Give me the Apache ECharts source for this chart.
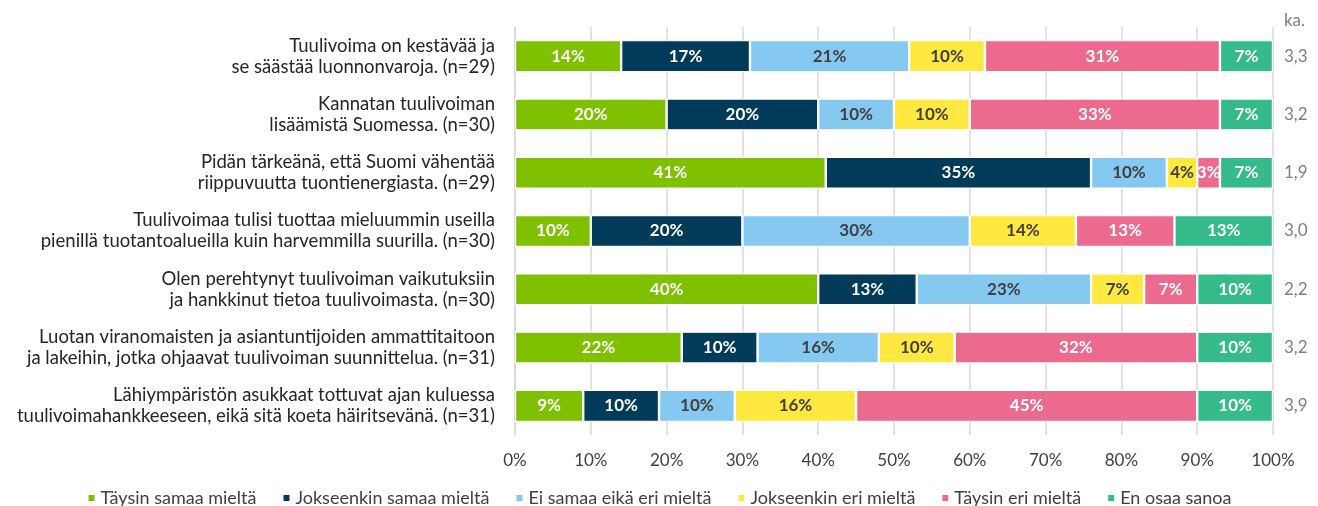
<!DOCTYPE html>
<html>
<head>
<meta charset="utf-8">
<script src="https://cdn.jsdelivr.net/npm/echarts@6/dist/echarts.min.js"></script>
<style>
  html, body { margin: 0; padding: 0; background: #fff; }
  #chart { width: 1318px; height: 506px; }
</style>
</head>
<body>
<div id="chart"></div>
<script>
// statements (top to bottom)
const statements = [
  'Tuulivoima on kestävää ja\nse säästää luonnonvaroja. (n=29)',
  'Kannatan tuulivoiman\nlisäämistä Suomessa. (n=30)',
  'Pidän tärkeänä, että Suomi vähentää\nriippuvuutta tuontienergiasta. (n=29)',
  'Tuulivoimaa tulisi tuottaa mieluummin useilla\npienillä tuotantoalueilla kuin harvemmilla suurilla. (n=30)',
  'Olen perehtynyt tuulivoiman vaikutuksiin\nja hankkinut tietoa tuulivoimasta. (n=30)',
  'Luotan viranomaisten ja asiantuntijoiden ammattitaitoon\nja lakeihin, jotka ohjaavat tuulivoiman suunnittelua. (n=31)',
  'Lähiympäristön asukkaat tottuvat ajan kuluessa\ntuulivoimahankkeeseen, eikä sitä koeta häiritsevänä. (n=31)'
];
const averages = ['3,3', '3,2', '1,9', '3,0', '2,2', '3,2', '3,9'];

const seriesNames = [
  'Täysin samaa mieltä', 'Jokseenkin samaa mieltä', 'Ei samaa eikä eri mieltä',
  'Jokseenkin eri mieltä', 'Täysin eri mieltä', 'En osaa sanoa'
];
const taysinSamaa     = [14, 20, 41, 10, 40, 22, 9];
const jokseenkinSamaa = [17, 20, 35, 20, 13, 10, 10];
const eiSamaaEiEri    = [21, 10, 10, 30, 23, 16, 10];
const jokseenkinEri   = [10, 10, 4, 14, 7, 10, 16];
const taysinEri       = [31, 33, 3, 13, 7, 32, 45];
const enOsaa          = [7, 7, 7, 13, 10, 10, 10];

const colors = ['#7fc000', '#023a5a', '#85c8f0', '#ffe840', '#ec6a8e', '#35ba8a'];
const labelColors = ['#fff', '#fff', '#404040', '#404040', '#fff', '#fff'];
const values = [taysinSamaa, jokseenkinSamaa, eiSamaaEiEri, jokseenkinEri, taysinEri, enOsaa];

const font = 'Lato, "Open Sans", sans-serif';

let myChart = echarts.init(document.getElementById('chart'));

let series = values.map(function (v, i) {
  return {
    name: seriesNames[i],
    type: 'bar',
    stack: 'total',
    barWidth: 32,
    data: v,
    itemStyle: { color: colors[i], borderColor: '#fff', borderWidth: 1.2 },
    label: {
      show: true,
      position: 'inside',
      formatter: '{c}%',
      color: labelColors[i],
      fontFamily: font,
      fontWeight: 'bold',
      fontSize: 17
    },
    emphasis: { disabled: true }
  };
});

let options = {
  animation: false,
  textStyle: { fontFamily: font },
  title: {
    text: 'ka.',
    right: 8,
    top: 7,
    textStyle: { color: '#7f7f7f', fontSize: 17, fontWeight: 'normal', fontFamily: font }
  },
  grid: { left: 515, right: 45, top: 27, bottom: 71 },
  legend: {
    top: 484,
    left: 'center',
    itemWidth: 8,
    itemHeight: 8,
    itemGap: 25,
    icon: 'rect',
    textStyle: { color: '#404040', fontSize: 18, fontFamily: font },
    data: seriesNames
  },
  xAxis: {
    type: 'value',
    min: 0,
    max: 100,
    interval: 10,
    axisLine: { show: false },
    axisTick: { show: false },
    axisLabel: { formatter: '{value}%', color: '#404040', fontSize: 17, margin: 17, fontFamily: font },
    splitLine: { lineStyle: { color: '#d9d9d9', width: 1.5 } }
  },
  yAxis: [
    {
      type: 'category',
      inverse: true,
      data: statements,
      axisLine: { show: true, lineStyle: { color: '#d9d9d9', width: 1.5 } },
      axisTick: { show: false },
      axisLabel: { color: '#262626', fontSize: 18.5, lineHeight: 21, margin: 20, fontFamily: font }
    },
    {
      type: 'category',
      inverse: true,
      position: 'right',
      data: averages,
      axisLine: { show: false },
      axisTick: { show: false },
      axisLabel: { color: '#7f7f7f', fontSize: 17, margin: 11, fontFamily: font }
    }
  ],
  series: series
};

myChart.setOption(options);
</script>
</body>
</html>
